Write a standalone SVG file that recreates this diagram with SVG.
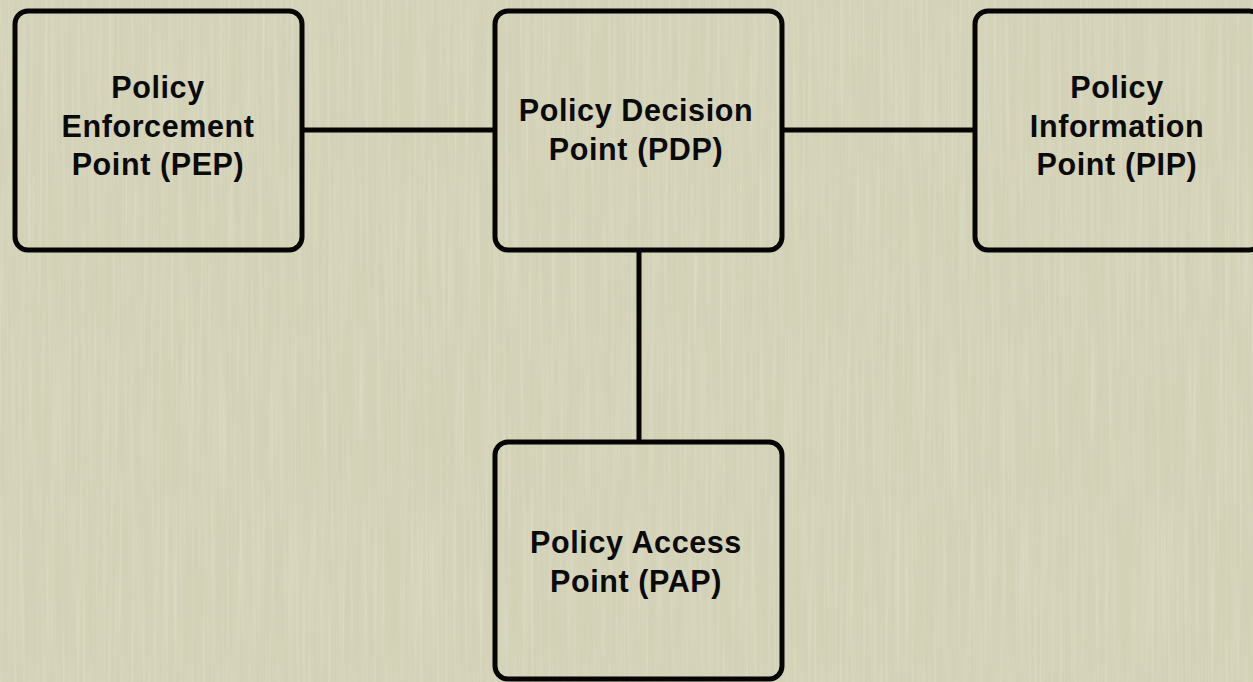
<svg xmlns="http://www.w3.org/2000/svg" width="1253" height="682" viewBox="0 0 1253 682">
  <defs>
    <style>
      .box { fill: none; stroke: #050505; stroke-width: 5; }
      .link { stroke: #050505; stroke-width: 5; fill: none; }
      .label { font-family: "Liberation Sans", Arial, Helvetica, sans-serif; font-weight: bold; font-size: 30.5px; fill: #0a0a0a; text-anchor: middle; letter-spacing: 0.6px; }
    </style>
    <!-- fine vertical paper grain -->
    <filter id="grain" x="0" y="0" width="100%" height="100%">
      <feTurbulence type="fractalNoise" baseFrequency="0.35 0.006" numOctaves="2" seed="7" result="n"/>
      <feColorMatrix in="n" type="matrix"
        values="0 0 0 0 1
                0 0 0 0 1
                0 0 0 0 0.95
                1.1 0 0 0 -0.45"/>
    </filter>
  </defs>

  <!-- paper background -->
  <rect x="0" y="0" width="1253" height="682" fill="#d3d2b7"/>
  <rect x="0" y="0" width="1253" height="682" filter="url(#grain)" opacity="0.35"/>

  <!-- connectors -->
  <g id="connectors">
    <line class="link" x1="302" y1="130" x2="495" y2="130"/>
    <line class="link" x1="782" y1="130" x2="975" y2="130"/>
    <line class="link" x1="639" y1="250" x2="639" y2="442"/>
  </g>

  <g id="pep">
    <rect class="box" x="15" y="11" width="287" height="239" rx="13"/>
    <text class="label" x="158" y="98">Policy</text>
    <text class="label" x="158" y="137">Enforcement</text>
    <text class="label" x="158" y="175">Point (PEP)</text>
  </g>

  <g id="pdp">
    <rect class="box" x="495" y="11" width="287" height="239" rx="13"/>
    <text class="label" x="636" y="121">Policy Decision</text>
    <text class="label" x="636" y="160">Point (PDP)</text>
  </g>

  <g id="pip">
    <rect class="box" x="975" y="11" width="287" height="239" rx="13"/>
    <text class="label" x="1117" y="98">Policy</text>
    <text class="label" x="1117" y="137">Information</text>
    <text class="label" x="1117" y="175">Point (PIP)</text>
  </g>

  <g id="pap">
    <rect class="box" x="495" y="442" width="287" height="237" rx="13"/>
    <text class="label" x="636" y="553">Policy Access</text>
    <text class="label" x="636" y="592">Point (PAP)</text>
  </g>
</svg>
